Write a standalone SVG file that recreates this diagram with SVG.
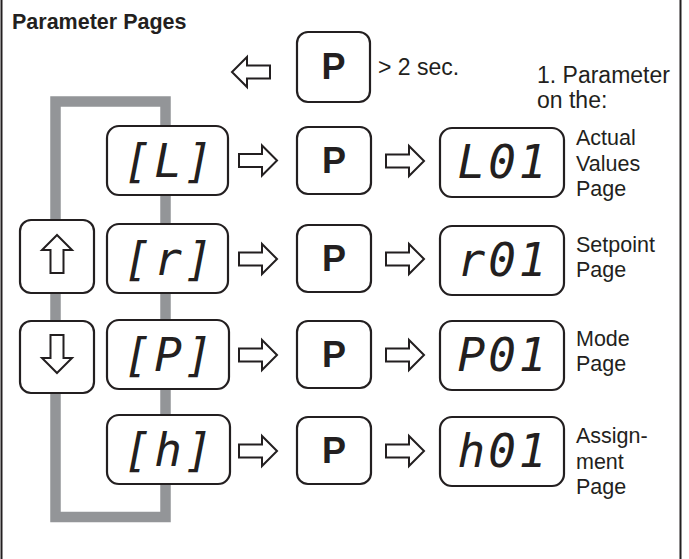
<svg xmlns="http://www.w3.org/2000/svg" width="689" height="559" viewBox="0 0 689 559">
<style>
.frame{stroke:#231f20;stroke-width:2;fill:none}
.box{fill:#fff;stroke:#231f20;stroke-width:2.2}
.arr{fill:#fff;stroke:#231f20;stroke-width:2;stroke-linejoin:miter}
.loop{fill:none;stroke:#939598;stroke-width:10.5}
.lbl{font-family:"Liberation Sans",Arial,sans-serif;font-size:21.5px;fill:#231f20}
.big{font-size:23px}
.title{font-family:"Liberation Sans",Arial,sans-serif;font-size:21.5px;font-weight:bold;fill:#231f20}
.pk{font-family:"Liberation Sans",Arial,sans-serif;font-size:36px;font-weight:bold;fill:#231f20;text-anchor:middle}
.seg{font-family:"DejaVu Sans Mono",monospace;font-size:46px;font-style:italic;letter-spacing:3px;fill:#231f20;text-anchor:middle}
</style>
<defs>
<path id="ar" d="M0,0 L-15,-15 L-15,-6.5 L-38,-6.5 L-38,6.5 L-15,6.5 L-15,15 Z"/>
</defs>
<line class="frame" x1="1.5" y1="0" x2="1.5" y2="559"/>
<line class="frame" x1="680.5" y1="0" x2="680.5" y2="559"/>
<text class="title" x="12" y="29">Parameter Pages</text>
<g id="connectors">
<rect class="loop" x="55.5" y="101.5" width="110" height="415.5"/>
<use href="#ar" class="arr" transform="translate(232,72) rotate(180)"/>
<use href="#ar" class="arr" transform="translate(277,160.5)"/>
<use href="#ar" class="arr" transform="translate(424,161)"/>
<use href="#ar" class="arr" transform="translate(277,259)"/>
<use href="#ar" class="arr" transform="translate(424,259)"/>
<use href="#ar" class="arr" transform="translate(277,355)"/>
<use href="#ar" class="arr" transform="translate(424,355)"/>
<use href="#ar" class="arr" transform="translate(277,451)"/>
<use href="#ar" class="arr" transform="translate(424,451)"/>
</g>
<g id="p-top">
<rect class="box" x="297" y="32" width="73" height="70" rx="11"/>
<text class="pk" x="333.5" y="79">P</text>
<text class="lbl big" x="378" y="75">&gt; 2 sec.</text>
</g>
<text class="lbl big" x="537" y="83">1. Parameter</text>
<text class="lbl big" x="537" y="108">on the:</text>
<g id="btn-up">
<rect class="box" x="20" y="220" width="74" height="73" rx="11"/>
<use href="#ar" class="arr" transform="translate(57,235) rotate(-90)"/>
</g>
<g id="btn-down">
<rect class="box" x="20" y="321" width="74" height="72" rx="11"/>
<use href="#ar" class="arr" transform="translate(57,373) rotate(90)"/>
</g>
<g id="d-CL">
<rect class="box" x="107" y="126" width="121" height="69" rx="12"/>
<text class="seg" x="169.5" y="177">[L]</text>
</g>
<g id="d-Cr">
<rect class="box" x="107" y="224" width="121" height="69" rx="12"/>
<text class="seg" x="169.5" y="275">[r]</text>
</g>
<g id="d-CP">
<rect class="box" x="107" y="320" width="122" height="69" rx="12"/>
<text class="seg" x="169.5" y="371">[P]</text>
</g>
<g id="d-Ch">
<rect class="box" x="107" y="415" width="123" height="69" rx="12"/>
<text class="seg" x="169.5" y="466">[h]</text>
</g>
<g id="p1"><rect class="box" x="297" y="127" width="74" height="67" rx="11"/><text class="pk" x="334" y="173">P</text></g>
<g id="p2"><rect class="box" x="297" y="225" width="74" height="67" rx="11"/><text class="pk" x="334" y="271">P</text></g>
<g id="p3"><rect class="box" x="297" y="321" width="74" height="67" rx="11"/><text class="pk" x="334" y="367">P</text></g>
<g id="p4"><rect class="box" x="297" y="417" width="74" height="67" rx="11"/><text class="pk" x="334" y="463">P</text></g>
<g id="r-L01">
<rect class="box" x="440" y="128" width="124" height="69" rx="12"/>
<text class="seg" x="503.5" y="178">L01</text>
<text class="lbl" x="576" y="145">Actual</text>
<text class="lbl" x="576" y="171">Values</text>
<text class="lbl" x="576" y="196">Page</text>
</g>
<g id="r-r01">
<rect class="box" x="440" y="226" width="124" height="69" rx="12"/>
<text class="seg" x="503.5" y="276">r01</text>
<text class="lbl" x="576" y="252">Setpoint</text>
<text class="lbl" x="576" y="277">Page</text>
</g>
<g id="r-P01">
<rect class="box" x="440" y="321" width="124" height="69" rx="12"/>
<text class="seg" x="503.5" y="371">P01</text>
<text class="lbl" x="576" y="346">Mode</text>
<text class="lbl" x="576" y="371">Page</text>
</g>
<g id="r-h01">
<rect class="box" x="440" y="417" width="124" height="69" rx="12"/>
<text class="seg" x="503.5" y="467">h01</text>
<text class="lbl" x="576" y="443">Assign-</text>
<text class="lbl" x="576" y="469">ment</text>
<text class="lbl" x="576" y="494">Page</text>
</g>
</svg>
